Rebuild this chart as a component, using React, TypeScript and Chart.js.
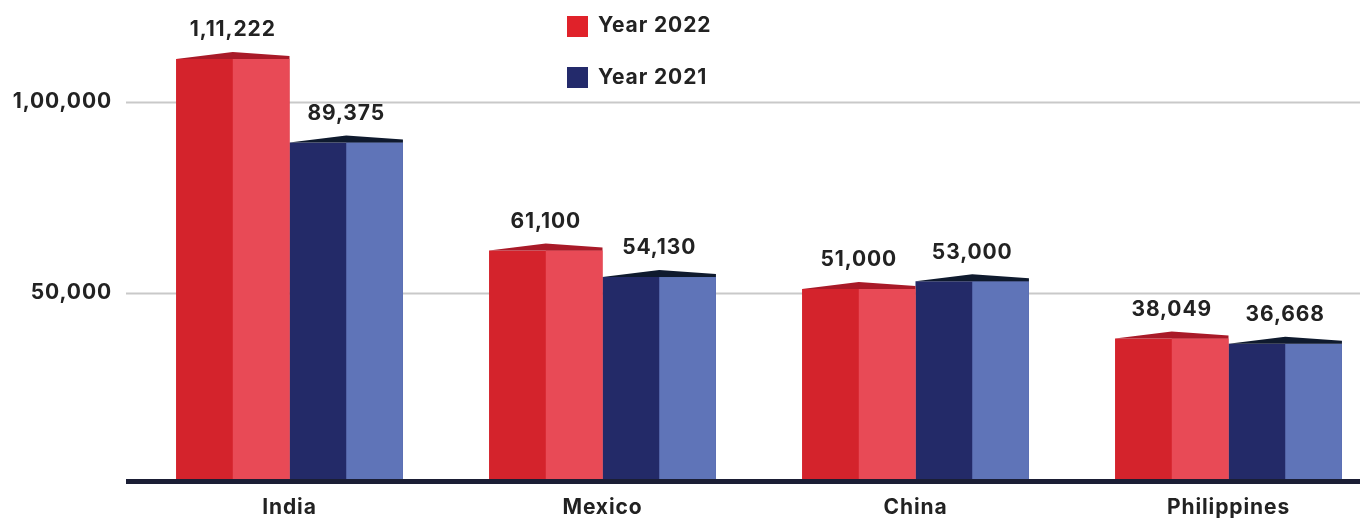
import React, { useEffect, useRef } from "react";
import { Chart, registerables } from "chart.js";

Chart.register(...registerables);

const categories = ["India", "Mexico", "China", "Philippines"];
const seriesNames = ["Year 2022", "Year 2021"];
const values2022 = [111222, 61100, 51000, 38049];
const values2021 = [89375, 54130, 53000, 36668];
const yTickValues = [50000, 100000];

const FONT = "Inter, 'Noto Sans', sans-serif";
const darkColors = ["#d4232c", "#232a68"];
const lightColors = ["#e84a56", "#5f74b8"];
const capColors = ["#a91a28", "#0f1a2e"];
const legendColors = ["#e0222a", "#232a6b"];

function formatIN(n: number): string {
  const s = String(Math.round(n));
  if (s.length <= 3) return s;
  const last3 = s.slice(-3);
  let rest = s.slice(0, -3);
  const parts: string[] = [];
  while (rest.length > 2) {
    parts.unshift(rest.slice(-2));
    rest = rest.slice(0, -2);
  }
  if (rest) parts.unshift(rest);
  return parts.join(",") + "," + last3;
}

const decorPlugin = {
  id: "decor",
  beforeDraw(chart: any) {
    try {
      (chart.ctx as any).letterSpacing = "0.9px";
    } catch (e) {}
  },
  beforeDatasetsDraw(chart: any) {
    const ctx = chart.ctx;
    const y = chart.scales.y;
    ctx.save();
    ctx.strokeStyle = "#c9c9c9";
    ctx.lineWidth = 2;
    yTickValues.forEach((v) => {
      const py = Math.round(y.getPixelForValue(v)) + 0.5;
      ctx.beginPath();
      ctx.moveTo(126, py);
      ctx.lineTo(chart.width, py);
      ctx.stroke();
    });
    ctx.restore();
  },
  afterDatasetsDraw(chart: any) {
    const ctx = chart.ctx;
    ctx.save();
    chart.data.datasets.forEach((ds: any, di: number) => {
      const meta = chart.getDatasetMeta(di);
      meta.data.forEach((bar: any, i: number) => {
        const { x, y, base, width } = bar.getProps(["x", "y", "base", "width"], true);
        const x0 = x - width / 2;
        const x1 = x + width / 2;
        ctx.fillStyle = lightColors[di];
        ctx.fillRect(x, y, x1 - x, base - y);
        ctx.fillStyle = capColors[di];
        ctx.beginPath();
        ctx.moveTo(x0, y);
        ctx.lineTo(x, y - 7);
        ctx.lineTo(x1, y - 3);
        ctx.lineTo(x1, y);
        ctx.closePath();
        ctx.fill();
        ctx.fillStyle = "#222222";
        ctx.font = `700 21px ${FONT}`;
        ctx.textAlign = "center";
        ctx.textBaseline = "middle";
        ctx.fillText(formatIN(ds.data[i]), x, y - 29);
      });
    });
    // baseline
    ctx.fillStyle = "#1b1e35";
    ctx.fillRect(126, chart.chartArea.bottom - 2, chart.width - 126, 5);
    // legend
    ctx.font = `700 21px ${FONT}`;
    ctx.textAlign = "left";
    ctx.textBaseline = "middle";
    seriesNames.forEach((name, i) => {
      const top = 16 + i * 51;
      ctx.fillStyle = legendColors[i];
      ctx.fillRect(567, top, 21, 21);
      ctx.fillStyle = "#222222";
      ctx.fillText(name, 598, top + 10 + i);
    });
    ctx.restore();
  },
};

export default function App() {
  const ref = useRef<HTMLCanvasElement>(null);
  useEffect(() => {
    if (!ref.current) return;
    const chart = new Chart(ref.current, {
      type: "bar",
      data: {
        labels: categories,
        datasets: [
          { label: seriesNames[0], data: values2022, backgroundColor: darkColors[0], borderWidth: 0 },
          { label: seriesNames[1], data: values2021, backgroundColor: darkColors[1], borderWidth: 0 },
        ],
      },
      options: {
        animation: false,
        responsive: false,
        devicePixelRatio: 1,
        layout: { padding: 0 },
        datasets: { bar: { categoryPercentage: 0.725, barPercentage: 1 } },
        plugins: { legend: { display: false }, tooltip: { enabled: false } },
        scales: {
          x: {
            type: "category",
            offset: true,
            grid: { display: false, drawTicks: false },
            border: { display: false },
            ticks: { color: "#222222", font: { family: FONT, size: 21, weight: "700" }, padding: 14 },
            afterFit: (s: any) => {
              s.height = 42;
            },
          },
          y: {
            type: "linear",
            min: 732,
            max: 117856,
            grid: { display: false, drawTicks: false },
            border: { display: false },
            afterBuildTicks: (s: any) => {
              s.ticks = yTickValues.map((v) => ({ value: v }));
            },
            ticks: {
              color: "#222222",
              font: { family: FONT, size: 21, weight: "700" },
              padding: 21,
              callback: (v: any) => formatIN(Number(v)),
            },
            afterFit: (s: any) => {
              s.width = 133;
            },
          },
        },
      },
      plugins: [decorPlugin],
    });
    return () => chart.destroy();
  }, []);
  return (
    <div style={{ position: "fixed", left: 0, top: 0, width: 1360, height: 523, overflow: "hidden", background: "#fff" }}>
      <canvas ref={ref} width={1385} height={523} style={{ display: "block" }} />
    </div>
  );
}
